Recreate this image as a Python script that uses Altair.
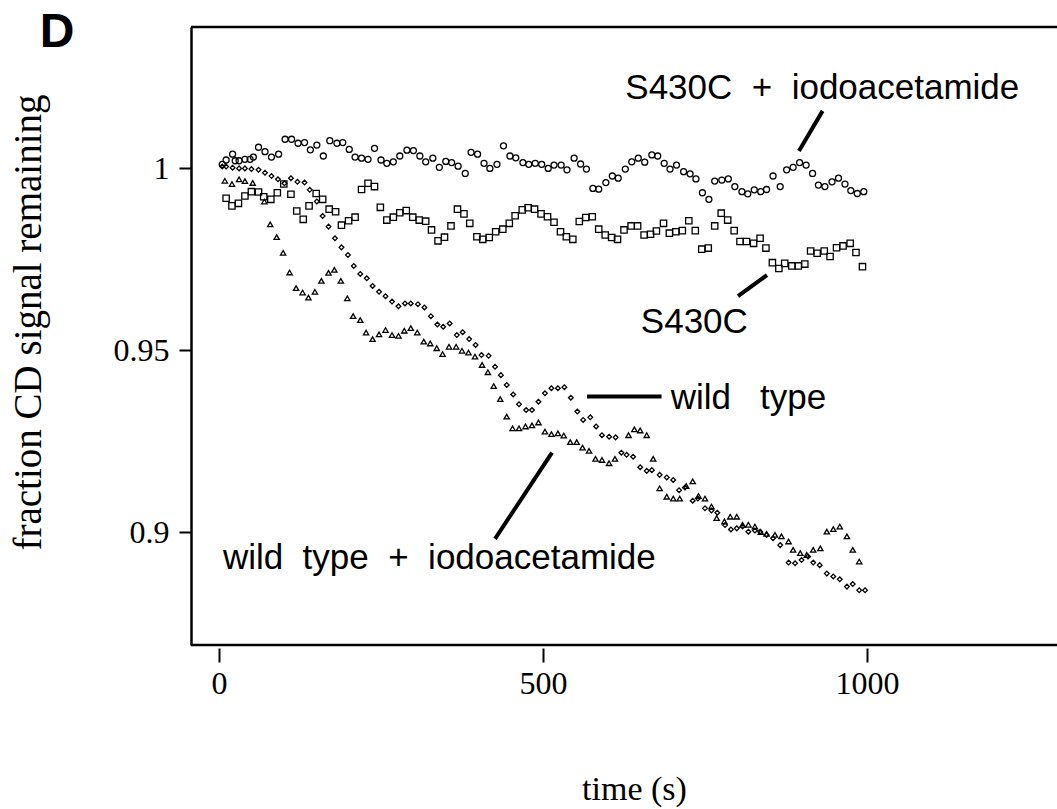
import altair as alt
import pandas as pd

# ---- data ----
circ_t = [5, 11, 21, 25, 31, 40, 48, 53, 61, 71, 81, 92, 102, 112, 122, 132, 141, 151, 161, 171, 182, 191, 201, 210, 220, 230, 240, 250, 259, 269, 279, 290, 300, 310, 319, 330, 340, 350, 359, 369, 380, 389, 399, 409, 418, 429, 439, 449, 458, 469, 478, 488, 498, 508, 517, 528, 537, 548, 558, 567, 577, 586, 597, 607, 616, 627, 637, 647, 657, 668, 677, 687, 696, 706, 717, 727, 736, 746, 756, 765, 776, 786, 796, 807, 816, 826, 836, 845, 855, 866, 876, 886, 896, 906, 916, 925, 935, 946, 956, 966, 975, 985, 995]
circ_v = [1.0010, 1.0022, 1.0038, 1.0020, 1.0020, 1.0024, 1.0024, 1.0030, 1.0057, 1.0045, 1.0030, 1.0038, 1.0079, 1.0079, 1.0068, 1.0070, 1.0050, 1.0063, 1.0033, 1.0075, 1.0068, 1.0070, 1.0051, 1.0030, 1.0027, 1.0024, 1.0054, 1.0022, 1.0013, 1.0017, 1.0033, 1.0049, 1.0048, 1.0033, 1.0017, 1.0027, 1.0002, 1.0018, 1.0015, 1.0005, 0.9985, 1.0043, 1.0038, 1.0013, 0.9999, 1.0010, 1.0061, 1.0033, 1.0028, 1.0015, 1.0010, 1.0013, 1.0010, 0.9999, 1.0008, 1.0008, 0.9995, 1.0027, 1.0011, 0.9997, 0.9944, 0.9942, 0.9960, 0.9978, 0.9972, 0.9997, 1.0017, 1.0027, 1.0016, 1.0036, 1.0033, 1.0013, 0.9997, 1.0008, 0.9990, 0.9984, 0.9970, 0.9932, 0.9914, 0.9964, 0.9967, 0.9970, 0.9949, 0.9935, 0.9929, 0.9940, 0.9935, 0.9941, 0.9978, 0.9949, 0.9995, 1.0002, 1.0015, 1.0008, 0.9985, 0.9953, 0.9949, 0.9962, 0.9972, 0.9956, 0.9938, 0.9930, 0.9935]

sq_t = [11, 20, 30, 40, 50, 61, 69, 80, 90, 100, 111, 120, 130, 139, 150, 160, 170, 180, 189, 200, 210, 220, 230, 240, 249, 259, 269, 279, 289, 299, 309, 319, 328, 338, 348, 358, 368, 378, 387, 398, 407, 417, 427, 438, 448, 457, 468, 477, 487, 497, 507, 517, 527, 536, 546, 556, 566, 576, 586, 596, 606, 615, 625, 636, 646, 656, 666, 675, 686, 695, 705, 715, 725, 735, 745, 755, 765, 775, 785, 795, 804, 814, 825, 835, 844, 854, 864, 873, 884, 894, 904, 913, 923, 934, 943, 953, 963, 974, 983, 993]
sq_v = [0.9917, 0.9896, 0.9903, 0.9923, 0.9935, 0.9934, 0.9921, 0.9914, 0.9932, 0.9956, 0.9928, 0.9882, 0.9859, 0.9896, 0.9930, 0.9914, 0.9887, 0.9880, 0.9843, 0.9855, 0.9865, 0.9941, 0.9958, 0.9949, 0.9892, 0.9857, 0.9865, 0.9877, 0.9883, 0.9865, 0.9857, 0.9854, 0.9830, 0.9800, 0.9810, 0.9841, 0.9887, 0.9874, 0.9848, 0.9811, 0.9804, 0.9809, 0.9825, 0.9832, 0.9848, 0.9869, 0.9885, 0.9891, 0.9887, 0.9874, 0.9866, 0.9851, 0.9825, 0.9811, 0.9804, 0.9853, 0.9864, 0.9866, 0.9832, 0.9816, 0.9809, 0.9804, 0.9830, 0.9841, 0.9841, 0.9816, 0.9818, 0.9827, 0.9848, 0.9821, 0.9825, 0.9828, 0.9855, 0.9828, 0.9777, 0.9780, 0.9841, 0.9876, 0.9857, 0.9828, 0.9798, 0.9798, 0.9793, 0.9807, 0.9780, 0.9740, 0.9724, 0.9738, 0.9731, 0.9731, 0.9736, 0.9772, 0.9766, 0.9772, 0.9757, 0.9781, 0.9786, 0.9793, 0.9768, 0.9729]

wt_t = [5, 11, 21, 31, 40, 50, 61, 71, 81, 91, 101, 111, 121, 132, 140, 151, 160, 169, 179, 189, 199, 208, 218, 228, 237, 247, 257, 267, 277, 287, 296, 307, 317, 327, 337, 346, 356, 367, 376, 386, 396, 405, 416, 426, 435, 444, 454, 463, 474, 483, 493, 503, 513, 523, 533, 543, 553, 562, 573, 582, 591, 602, 612, 621, 629, 639, 650, 660, 668, 680, 691, 701, 710, 719, 731, 739, 750, 760, 769, 781, 790, 799, 808, 817, 827, 835, 845, 855, 866, 879, 889, 899, 909, 917, 927, 938, 948, 958, 969, 978, 988, 997]
wt_v = [1.0004, 1.0004, 1.0001, 0.9999, 0.9999, 0.9997, 0.9995, 0.9987, 0.9978, 0.9969, 0.9958, 0.9972, 0.9962, 0.9960, 0.9940, 0.9908, 0.9868, 0.9839, 0.9807, 0.9782, 0.9761, 0.9731, 0.9709, 0.9697, 0.9676, 0.9660, 0.9648, 0.9633, 0.9620, 0.9628, 0.9628, 0.9626, 0.9617, 0.9593, 0.9570, 0.9564, 0.9573, 0.9541, 0.9549, 0.9530, 0.9514, 0.9486, 0.9484, 0.9454, 0.9431, 0.9404, 0.9378, 0.9351, 0.9335, 0.9335, 0.9358, 0.9381, 0.9395, 0.9395, 0.9398, 0.9369, 0.9331, 0.9308, 0.9315, 0.9290, 0.9266, 0.9262, 0.9260, 0.9218, 0.9212, 0.9207, 0.9178, 0.9168, 0.9170, 0.9157, 0.9150, 0.9143, 0.9115, 0.9122, 0.9086, 0.9092, 0.9065, 0.9059, 0.9053, 0.9019, 0.9007, 0.9010, 0.9015, 0.9001, 0.9004, 0.9001, 0.8992, 0.8983, 0.8964, 0.8916, 0.8914, 0.8923, 0.8933, 0.8916, 0.8909, 0.8886, 0.8878, 0.8870, 0.8850, 0.8857, 0.8840, 0.8840]

wti_t = [9, 20, 31, 40, 52, 70, 79, 89, 99, 109, 119, 129, 138, 148, 158, 169, 178, 188, 198, 207, 218, 227, 237, 247, 257, 267, 277, 286, 296, 306, 316, 326, 336, 345, 355, 366, 375, 385, 395, 406, 415, 424, 434, 444, 453, 463, 473, 483, 493, 503, 513, 523, 532, 542, 552, 561, 571, 581, 591, 602, 611, 632, 641, 650, 660, 670, 680, 691, 701, 711, 721, 731, 740, 750, 760, 768, 780, 789, 799, 808, 817, 827, 836, 845, 858, 868, 879, 886, 897, 907, 917, 928, 938, 948, 958, 969, 978, 988]
wti_v = [0.9965, 0.9956, 0.9969, 0.9964, 0.9959, 0.9908, 0.9845, 0.9810, 0.9767, 0.9713, 0.9670, 0.9658, 0.9644, 0.9660, 0.9690, 0.9712, 0.9720, 0.9690, 0.9642, 0.9593, 0.9582, 0.9548, 0.9530, 0.9543, 0.9555, 0.9541, 0.9539, 0.9553, 0.9560, 0.9548, 0.9523, 0.9518, 0.9505, 0.9489, 0.9509, 0.9509, 0.9498, 0.9493, 0.9482, 0.9459, 0.9439, 0.9401, 0.9365, 0.9317, 0.9285, 0.9285, 0.9290, 0.9293, 0.9301, 0.9276, 0.9269, 0.9271, 0.9265, 0.9247, 0.9247, 0.9232, 0.9223, 0.9201, 0.9198, 0.9189, 0.9201, 0.9266, 0.9282, 0.9279, 0.9266, 0.9201, 0.9120, 0.9097, 0.9092, 0.9092, 0.9126, 0.9139, 0.9099, 0.9092, 0.9070, 0.9038, 0.9029, 0.9042, 0.9042, 0.9020, 0.9020, 0.9015, 0.9000, 0.8995, 0.8992, 0.8988, 0.8974, 0.8951, 0.8942, 0.8937, 0.8951, 0.8955, 0.9001, 0.9008, 0.9015, 0.8988, 0.8951, 0.8919]

NB = "\u00a0"
ann_text = ["S430C" + NB * 2 + "+" + NB * 2 + "iodoacetamide",
            "S430C",
            "wild" + NB * 3 + "type",
            "wild" + NB * 2 + "type" + NB * 2 + "+" + NB * 2 + "iodoacetamide"]
ann_t = [627, 651, 697, 6]
ann_v = [1.0190, 0.9547, 0.9338, 0.8899]

lead_t1 = [931.5, 845.7, 568, 513.9]
lead_v1 = [1.0157, 0.9706, 0.9372, 0.9218]
lead_t2 = [895, 800.9, 683, 425.9]
lead_v2 = [1.0047, 0.9648, 0.9372, 0.8981]

# ---- chart ----
W, H = 866, 618
SERIF = "Liberation Serif"
SANS = "Liberation Sans"

xs = alt.Scale(domain=[-43.2, 1293.2], nice=False, zero=False)
ys = alt.Scale(domain=[0.86896, 1.03874], nice=False, zero=False)

x_axis = alt.Axis(values=[0, 500, 1000], format="d", domain=False, grid=False,
                  ticks=True, tickSize=14, tickWidth=2, tickColor="black", offset=3,
                  labelFont=SERIF, labelFontSize=32, labelColor="black", labelPadding=6,
                  title="time (s)", titleFont=SERIF, titleFontSize=34,
                  titleFontWeight="normal", titleColor="black", titlePadding=73,
                  titleX=443, titleAlign="center")
y_axis = alt.Axis(values=[0.9, 0.95, 1.0], format="~g", domain=True, domainColor="black",
                  domainWidth=2.5, grid=False, ticks=True, tickSize=12, tickWidth=2,
                  tickColor="black", labelFont=SERIF, labelFontSize=32, labelColor="black",
                  labelPadding=10, title="fraction CD signal remaining", titleFont=SERIF,
                  titleFontSize=39, titleFontWeight="normal", titleColor="black",
                  titleX=-163, titleY=295, titleAngle=270, titleAlign="center",
                  titleBaseline="middle")

X = alt.X("t:Q", scale=xs, axis=x_axis)
Y = alt.Y("v:Q", scale=ys, axis=y_axis)


def pts(ts, vs, shape, size):
    df = pd.DataFrame({"t": ts, "v": vs})
    return alt.Chart(df).mark_point(shape=shape, size=size, filled=False, color="black",
                                    strokeWidth=1.3, opacity=1).encode(x=X, y=Y)


circles = pts(circ_t, circ_v, "circle", 36)
squares = pts(sq_t, sq_v, "square", 40)
diamonds = pts(wt_t, wt_v, "diamond", 22)
triangles = pts(wti_t, wti_v, "triangle-up", 28)

ann_df = pd.DataFrame({"t": ann_t, "v": ann_v, "label": ann_text})
ann = alt.Chart(ann_df).mark_text(align="left", baseline="alphabetic", font=SANS,
                                  fontSize=35, color="black").encode(x=X, y=Y, text="label:N")

lead_df = pd.DataFrame({"t": lead_t1, "v": lead_v1, "t2": lead_t2, "v2": lead_v2})
leads = alt.Chart(lead_df).mark_rule(color="black", strokeWidth=4).encode(
    x=X, y=Y, x2="t2:Q", y2="v2:Q")

dummy = pd.DataFrame({"a": [0]})
top_rule = alt.Chart(dummy).mark_rule(color="black", strokeWidth=2.5).encode(
    x=alt.value(0), x2=alt.value(W), y=alt.value(0))
bottom_rule = alt.Chart(dummy).mark_rule(color="black", strokeWidth=2.5).encode(
    x=alt.value(0), x2=alt.value(W), y=alt.value(H))
panel = alt.Chart(dummy).mark_text(text="D", font=SANS, fontWeight="bold", fontSize=48,
                                   align="center", baseline="alphabetic", color="black").encode(
    x=alt.value(-134), y=alt.value(20))

chart = alt.layer(circles, squares, diamonds, triangles, ann, leads, top_rule, bottom_rule, panel).properties(
    width=W, height=H, autosize="none",
    padding={"left": 191, "top": 27, "right": 0, "bottom": 164},
    background="white"
).configure_view(stroke=None)

chart.save("out.html", embed_options={"renderer": "svg", "actions": False})
